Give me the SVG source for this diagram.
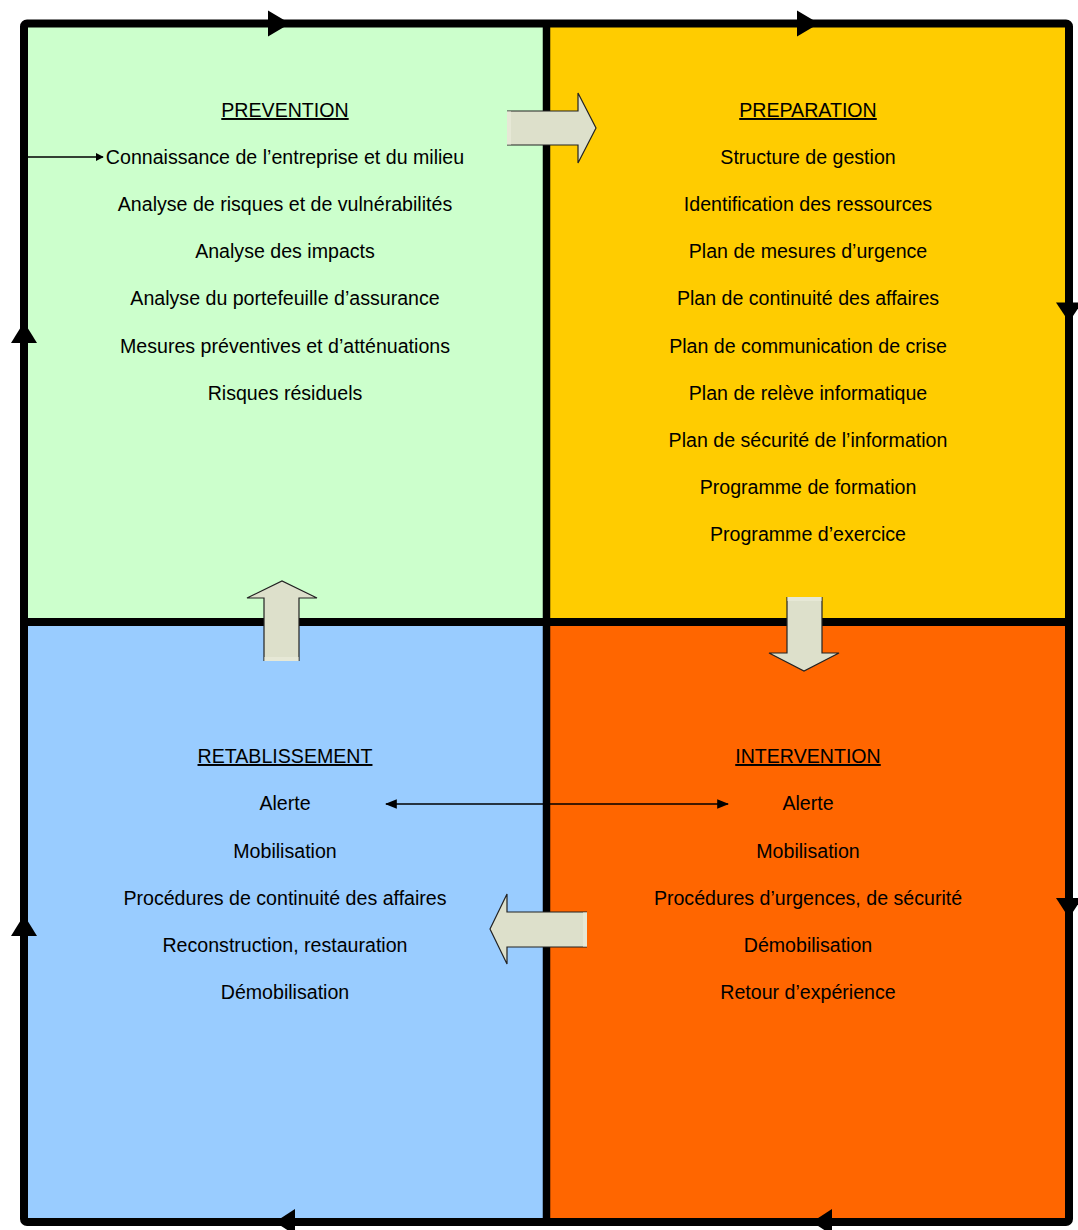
<svg xmlns="http://www.w3.org/2000/svg" width="1078" height="1230" viewBox="0 0 1078 1230">
<style>
  text { font-family: "Liberation Sans", Arial, sans-serif; font-size: 19.6px; fill: #000; text-anchor: middle; }
  .title { text-decoration: underline; }
  .border { stroke: #000; stroke-width: 8; fill: none; stroke-linejoin: round; }
  .head { fill: #000; }
  .block { fill: #DDE0CB; stroke: #222; stroke-width: 1.2; stroke-linejoin: miter; }
  .thin { stroke: #000; stroke-width: 1.5; fill: none; }
</style>
<defs>
  <marker id="sm" viewBox="0 0 10 10" refX="9" refY="5" markerWidth="8" markerHeight="8" markerUnits="userSpaceOnUse" orient="auto-start-reverse">
    <path d="M0,0 L10,5 L0,10 Z" fill="#000"/>
  </marker>
  <marker id="md" viewBox="0 0 10 10" refX="9" refY="5" markerWidth="12" markerHeight="12" markerUnits="userSpaceOnUse" orient="auto-start-reverse">
    <path d="M0,1 L10,5 L0,9 Z" fill="#000"/>
  </marker>
</defs>
<rect width="1078" height="1230" fill="#fff"/>

<g id="prevention">
  <rect x="24" y="23.5" width="522.5" height="598.5" fill="#CCFFCC"/>
  <text x="285" y="117" class="title">PREVENTION</text>
  <text x="285" y="164">Connaissance de l’entreprise et du milieu</text>
  <text x="285" y="211">Analyse de risques et de vulnérabilités</text>
  <text x="285" y="258">Analyse des impacts</text>
  <text x="285" y="305">Analyse du portefeuille d’assurance</text>
  <text x="285" y="353">Mesures préventives et d’atténuations</text>
  <text x="285" y="400">Risques résiduels</text>
</g>

<g id="preparation">
  <rect x="546.5" y="23.5" width="522.5" height="598.5" fill="#FFCC00"/>
  <text x="808" y="117" class="title">PREPARATION</text>
  <text x="808" y="164">Structure de gestion</text>
  <text x="808" y="211">Identification des ressources</text>
  <text x="808" y="258">Plan de mesures d’urgence</text>
  <text x="808" y="305">Plan de continuité des affaires</text>
  <text x="808" y="353">Plan de communication de crise</text>
  <text x="808" y="400">Plan de relève informatique</text>
  <text x="808" y="447">Plan de sécurité de l’information</text>
  <text x="808" y="494">Programme de formation</text>
  <text x="808" y="541">Programme d’exercice</text>
</g>

<g id="retablissement">
  <rect x="24" y="622" width="522.5" height="600" fill="#99CCFF"/>
  <text x="285" y="763" class="title">RETABLISSEMENT</text>
  <text x="285" y="810">Alerte</text>
  <text x="285" y="858">Mobilisation</text>
  <text x="285" y="905">Procédures de continuité des affaires</text>
  <text x="285" y="952">Reconstruction, restauration</text>
  <text x="285" y="999">Démobilisation</text>
</g>

<g id="intervention">
  <rect x="546.5" y="622" width="522.5" height="600" fill="#FF6600"/>
  <text x="808" y="763" class="title">INTERVENTION</text>
  <text x="808" y="810">Alerte</text>
  <text x="808" y="858">Mobilisation</text>
  <text x="808" y="905">Procédures d’urgences, de sécurité</text>
  <text x="808" y="952">Démobilisation</text>
  <text x="808" y="999">Retour d’expérience</text>
</g>

<g id="connectors">
  <rect x="24" y="23.5" width="1045" height="1198.5" rx="3" class="border"/>
  <line x1="546.5" y1="23.5" x2="546.5" y2="1222" stroke="#000" stroke-width="7.5"/>
  <line x1="24" y1="622" x2="1069" y2="622" stroke="#000" stroke-width="8"/>
  <path class="head" d="M268,10.5 L290,23.5 L268,36.5 Z"/>
  <path class="head" d="M797,10.5 L819,23.5 L797,36.5 Z"/>
  <path class="head" d="M1056,302.5 L1069,322 L1082,302.5 Z"/>
  <path class="head" d="M1056,898 L1069,918 L1082,898 Z"/>
  <path class="head" d="M832,1209 L812,1222 L832,1235 Z"/>
  <path class="head" d="M295,1209 L275,1222 L295,1235 Z"/>
  <path class="head" d="M11,343 L24,322 L37,343 Z"/>
  <path class="head" d="M11,936 L24,915 L37,936 Z"/>
  <line x1="27" y1="157" x2="103" y2="157" class="thin" marker-end="url(#sm)"/>
  <line x1="386" y1="804" x2="728" y2="804" class="thin" marker-start="url(#md)" marker-end="url(#md)"/>
  <g id="arrow-right">
    <path class="block" d="M507,111 L578,111 L578,93 L596,128 L578,163 L578,145 L507,145"/>
    <rect x="507" y="111.5" width="4" height="33" fill="#E6E8D6"/>
  </g>
  <g id="arrow-down">
    <path class="block" d="M787,597 L787,653 L769,653 L804,671 L839,653 L822,653 L822,597"/>
    <rect x="787.5" y="597" width="34" height="4" fill="#E6E8D6"/>
  </g>
  <g id="arrow-left">
    <path class="block" d="M587,912 L507,912 L507,894 L490,929 L507,964 L507,947 L587,947"/>
    <rect x="583" y="912.5" width="4" height="34" fill="#E6E8D6"/>
  </g>
  <g id="arrow-up">
    <path class="block" d="M264,661 L264,598 L247,598 L282,581 L317,598 L299,598 L299,661"/>
    <rect x="264.5" y="657" width="34" height="4" fill="#E6E8D6"/>
  </g>
</g>
</svg>
